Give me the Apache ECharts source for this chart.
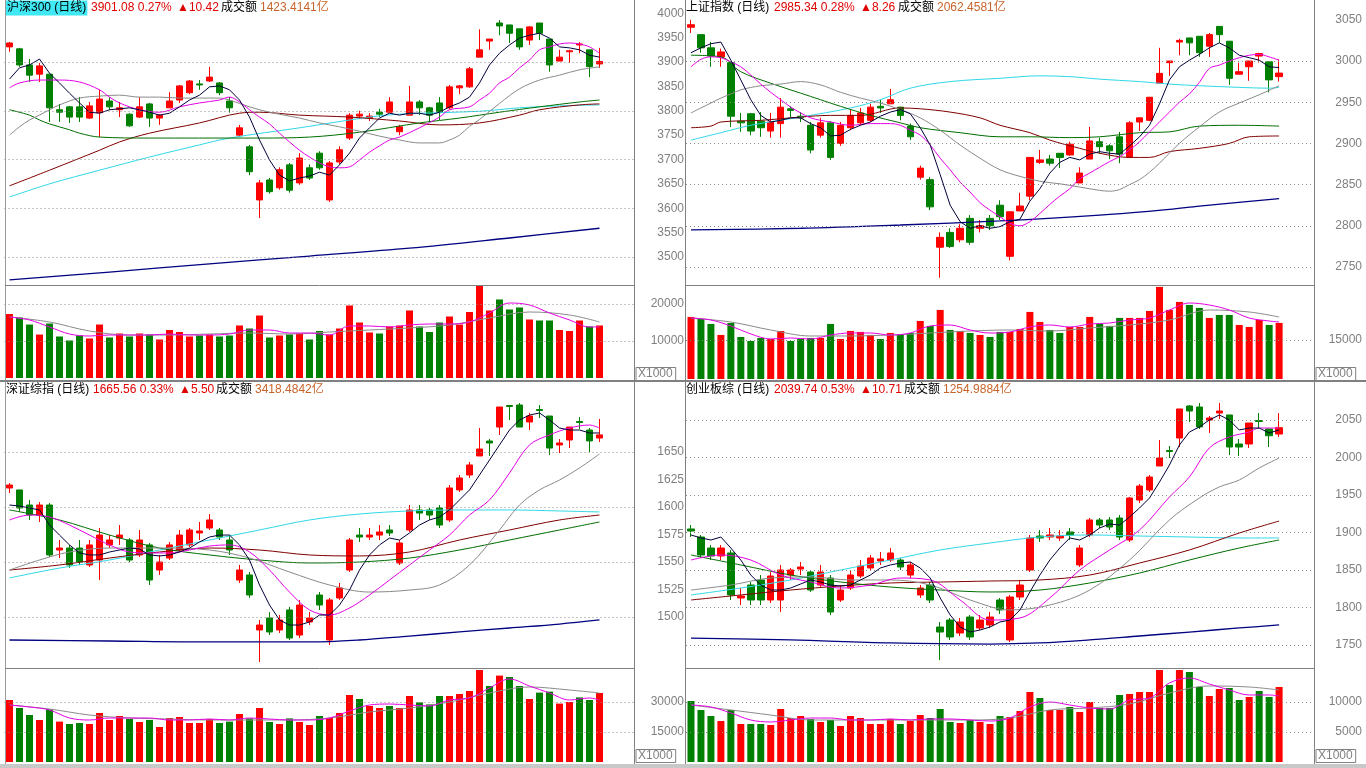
<!DOCTYPE html>
<html><head><meta charset="utf-8">
<script src="https://cdn.jsdelivr.net/npm/echarts@6/dist/echarts.min.js"></script>
<style>html,body{margin:0;padding:0;background:#fff;overflow:hidden}#c{width:1366px;height:768px}</style>
</head><body><div id="c"></div>
<script>
// ---------- slots (60 trading days + 3 empty slots on the right) ----------
const days = Array.from({length: 63}, (_, i) => 'D' + (i + 1));

// ---------- 沪深300 ----------
const hsK = [
[3931,3939,3921,3941],[3927,3894,3890,3929],[3894,3873,3859,3906],[3875,3892,3859,3898],[3875,3806,3777,3877],
[3802,3797,3777,3814],[3808,3787,3775,3810],[3808,3787,3777,3828],[3785,3810,3783,3818],[3796,3824,3746,3843],
[3820,3808,3802,3828],[3802,3806,3787,3818],[3793,3769,3767,3795],[3787,3808,3785,3828],[3814,3785,3767,3816],
[3785,3791,3771,3793],[3806,3820,3806,3838],[3822,3851,3816,3853],[3837,3861,3834,3863],[3855,3853,3843,3863],
[3861,3869,3859,3890],[3857,3837,3832,3859],[3820,3806,3796,3828],[3750,3765,3746,3771],[3726,3675,3668,3730],
[3617,3652,3580,3658],[3658,3634,3630,3662],[3642,3679,3638,3684],[3689,3637,3632,3693],[3652,3703,3648,3713],
[3683,3662,3658,3690],[3713,3683,3679,3717],[3617,3693,3613,3697],[3695,3720,3690,3727],[3744,3791,3740,3795],
[3789,3793,3783,3800],[3785,3789,3779,3795],[3797,3793,3787,3804],[3797,3818,3797,3828],[3757,3767,3750,3771],
[3791,3818,3791,3851],[3818,3806,3791,3822],[3806,3791,3777,3808],[3816,3797,3781,3828],[3806,3849,3802,3853],
[3847,3851,3834,3853],[3849,3886,3847,3890],[3910,3925,3910,3967],[3943,3947,3925,3947],[3980,3974,3955,3986],
[3976,3959,3939,3976],[3968,3931,3925,3968],[3945,3972,3935,3974],[3980,3959,3945,3980],[3947,3894,3880,3947],
[3902,3910,3902,3925],[3921,3923,3898,3925],[3935,3937,3918,3941],[3925,3890.66,3869,3925],[3896,3901.08,3888,3929]];
const hsMA5 = [3865,3888,3894,3906,3877,3857,3836,3816,3797,3795,3802,3804,3806,3802,3797,3791,3795,3808,3822,3832,3849,3851,3843,3822,3787,3740,3699,3668,3656,3662,3666,3674,3668,3689,3713,3744,3765,3785,3795,3791,3795,3795,3791,3797,3808,3816,3828,3857,3894,3918,3935,3949,3955,3959,3949,3931,3929,3925,3914,3910];
const hsMA10 = [[0,3847],[1,3857],[3,3863],[5,3863],[7,3859],[9,3843],[10,3828],[11,3816],[13,3802],[15,3797],[17,3808],[19,3816],[21,3822],[22,3828],[23,3818],[24,3802],[25,3787],[26,3773],[27,3754],[28,3736],[29,3719],[30,3705],[31,3693],[32,3685],[33,3683],[34,3685],[35,3699],[36,3715],[37,3728],[38,3740],[39,3746],[41,3765],[43,3787],[44,3802],[46,3808],[47,3822],[48,3836],[49,3857],[50,3869],[51,3888],[52,3904],[53,3925],[54,3931],[55,3937],[56,3939],[57,3937],[58,3931],[59,3918]];
const hsMA20 = [[0,3750],[1,3767],[2,3781],[3,3791],[4,3802],[5,3812],[7,3826],[9,3830],[11,3832],[13,3828],[15,3828],[17,3826],[19,3826],[21,3826],[22,3822],[24,3808],[26,3797],[29,3785],[31,3775],[33,3767],[35,3758],[37,3748],[39,3740],[41,3734],[43,3734],[44,3740],[45,3750],[46,3768],[47,3782],[49,3815],[51,3845],[53,3863],[55,3873],[57,3884],[59,3890]];
const hsMA30 = [[0,3802],[2,3791],[3,3781],[4,3773],[6,3761],[7,3754],[9,3746],[14,3744],[19,3744],[25,3744],[30,3746],[35,3756],[41,3775],[45,3785],[49,3797],[53,3808],[57,3818],[59,3822]];
const hsMA60 = [[0,3646],[4,3678],[9,3719],[11,3736],[14,3754],[19,3775],[23,3795],[25,3797],[29,3791],[34,3787],[39,3779],[43,3771],[47,3775],[51,3791],[53,3802],[57,3812],[59,3814]];
const hsMA120 = [[0,3623],[4,3650],[9,3678],[14,3705],[19,3730],[22,3744],[29,3765],[36,3787],[39,3793],[47,3799],[51,3806],[55,3810],[59,3812]];
const hsMA250 = [[0,3453],[10,3469],[20,3486],[30,3502],[40,3518],[50,3539],[59,3559]];
const hsVol = [17300,16350,14450,11750,14730,11220,10140,11490,10680,14450,10950,12030,11220,12030,11760,10410,12970,12430,11220,11490,11760,11220,11490,14190,13380,16890,10950,11490,11760,12030,10410,12700,11760,13380,19600,15000,12300,12030,13920,14190,18250,13920,12430,15000,16620,14450,17840,24860,18250,21220,18520,19060,15810,15540,15540,12970,12700,15540,13920,14190];
const hsVolMA5 = [[0,16490],[2,15680],[4,13790],[6,11890],[8,11350],[10,11620],[12,11620],[14,11620],[16,11890],[18,11620],[20,11620],[22,11890],[24,12970],[26,12970],[28,12160],[30,12160],[32,11620],[34,14060],[36,14060],[38,13790],[40,14330],[42,14600],[44,14600],[46,15140],[48,17570],[50,20270],[52,19730],[54,17570],[56,15680],[58,13790],[59,13790]];
const hsVolMA10 = [[0,16490],[4,15140],[8,12700],[12,11620],[16,11620],[20,11890],[24,12160],[28,11890],[32,12430],[36,12970],[40,13520],[44,14330],[48,16220],[52,17840],[56,17030],[59,15140]];
const hsTicks = [3500,3550,3600,3650,3700,3750,3800,3850,3900,3950,4000];
const hsGridLines = [3500,3600,3700,3800,3900];
const hsVolTicks = [10000,20000];

// ---------- 上证指数 ----------
const shK = [
[3041,3044,3034,3050],[3032,3016,3010,3032],[3016,3006,2993,3023],[3005,3011,2993,3015],[2998,2933,2920,2999],
[2927,2925,2914,2937],[2936,2915,2910,2937],[2927,2919,2908,2938],[2915,2926,2907,2937],[2924,2944,2907,2955],
[2942,2940,2932,2945],[2933,2931,2926,2938],[2922,2892,2888,2926],[2910,2925,2907,2931],[2925,2883,2880,2927],
[2900,2922,2897,2926],[2919,2934,2916,2941],[2925,2937,2922,2943],[2928,2944,2926,2948],[2945,2943,2937,2953],
[2948,2953,2948,2966],[2944,2934,2928,2944],[2921,2908,2904,2924],[2859,2870,2856,2873],[2856,2823,2819,2859],
[2774,2786,2737,2792],[2792,2775,2773,2797],[2783,2797,2780,2802],[2809,2780,2777,2813],[2797,2800,2792,2807],
[2809,2800,2795,2813],[2825,2811,2807,2831],[2763,2817,2758,2817],[2818,2824,2818,2840],[2836,2883,2831,2883],
[2877,2880,2875,2892],[2881,2876,2873,2886],[2888,2883,2870,2888],[2886,2899,2885,2902],[2852,2864,2852,2871],
[2881,2903,2881,2920],[2902,2896,2888,2907],[2897,2891,2881,2899],[2908,2887,2876,2914],[2883,2925,2883,2927],
[2926,2931,2915,2931],[2928,2956,2927,2956],[2973,2985,2973,3016],[2998,3000,2982,3000],[3023,3025,3007,3027],
[3028,3022,3007,3028],[3030,3010,3005,3030],[3018,3032,3005,3034],[3042,3032,3022,3042],[3024,2979,2971,3024],
[2984,2987,2984,2998],[2993,3000,2976,3000],[3006,3009,2998,3010],[2999,2977.08,2962,2999],[2981,2985.34,2975,3002]];
const shMA5 = [3010,3016,3021,3023,3001,2977,2953,2934,2926,2928,2931,2931,2924,2919,2909,2910,2917,2922,2926,2933,2938,2941,2936,2919,2898,2862,2825,2805,2797,2800,2797,2799,2805,2808,2830,2845,2864,2877,2883,2880,2887,2890,2888,2887,2897,2908,2922,2948,2977,2993,3001,3008,3016,3022,3016,3007,3004,3001,2993,2992];
const shMA10 = [[0,2993],[1,3002],[2,3005],[3,3004],[4,2999],[5,2993],[6,2983],[7,2972],[8,2962],[9,2953],[10,2944],[11,2937],[12,2931],[13,2928],[14,2926],[16,2922],[18,2924],[20,2924],[21,2922],[22,2916],[23,2910],[24,2898],[25,2882],[26,2868],[27,2853],[28,2841],[29,2828],[30,2819],[31,2811],[32,2803],[33,2800],[34,2805],[35,2815],[36,2826],[37,2836],[38,2845],[39,2857],[40,2864],[41,2871],[42,2878],[43,2884],[44,2892],[45,2902],[46,2914],[47,2926],[48,2938],[49,2950],[50,2960],[51,2974],[52,2991],[53,2995],[54,3000],[55,3004],[56,3007],[57,3008],[58,3005],[59,3001]];
const shMA20 = [[0,2937],[1,2943],[2,2949],[3,2955],[4,2960],[5,2965],[7,2970],[9,2972],[11,2975],[13,2971],[15,2962],[17,2955],[19,2949],[21,2941],[23,2931],[25,2916],[27,2898],[29,2882],[31,2868],[33,2860],[35,2854],[37,2851],[39,2847],[41,2843],[42,2842],[43,2844],[44,2850],[45,2856],[46,2865],[47,2876],[49,2900],[51,2920],[53,2938],[55,2949],[57,2959],[59,2970]];
const shMA30 = [[0,3007],[3,3005],[5,2987],[8,2973],[11,2961],[13,2953],[15,2945],[18,2934],[21,2925],[23,2919],[27,2913],[31,2908],[34,2908],[38,2907],[41,2908],[45,2913],[48,2914],[51,2921],[55,2922],[59,2921]];
const shMA60 = [[0,2919],[2,2921],[3,2926],[7,2928],[11,2932],[14,2934],[17,2934],[21,2943],[23,2942],[26,2938],[29,2931],[31,2922],[34,2913],[36,2904],[39,2894],[41,2888],[44,2883],[46,2883],[48,2890],[51,2894],[54,2900],[56,2908],[59,2909]];
const shMA120 = [[0,2904],[3,2913],[6,2922],[11,2932],[16,2943],[19,2953],[22,2967],[26,2975],[31,2979],[35,2982],[38,2981],[41,2978],[45,2975],[48,2972],[51,2970],[55,2968],[58,2967],[59,2968]];
const shMA250 = [[0,2795],[11,2797],[21,2801],[31,2806],[41,2813],[48,2820],[51,2824],[59,2833]];
const shVol = [23870,23100,21180,16940,21560,16170,14630,15790,15400,18480,14630,15400,15790,15790,21180,15400,18480,18100,16940,15400,17710,16940,17710,22330,20410,26570,18870,18480,17710,16940,16170,18100,18100,19250,25800,21950,18870,17710,20020,20020,23870,21180,20410,23490,23490,23490,26180,35420,26570,29650,28490,27340,23490,24640,24640,20790,20020,22720,20790,21560];
const shVolMA5 = [[0,23460],[2,22690],[4,20380],[6,17310],[8,15380],[10,15770],[12,15380],[14,16920],[16,17690],[18,17690],[20,16920],[22,17690],[24,20380],[26,20770],[28,18850],[30,17690],[32,18080],[34,20000],[36,20770],[38,20000],[40,21150],[42,21540],[44,22690],[46,23460],[48,26540],[50,29230],[52,28460],[54,26540],[56,23460],[58,22310],[59,21920]];
const shVolMA10 = [[0,23460],[4,21920],[8,18850],[12,16540],[16,16540],[20,16920],[24,17690],[28,18460],[32,18850],[36,18460],[40,19620],[44,20770],[48,22690],[52,26540],[56,25770],[59,23850]];
const shTicks = [2750,2800,2850,2900,2950,3000,3050];
const shGridLines = [2750,2800,2850,2900,2950,3000];
const shVolTicks = [15000];

// ---------- 深证综指 ----------
const szK = [
[1617.3,1620.0,1612.7,1621.8],[1615.5,1599.1,1595.5,1615.5],[1601.8,1592.7,1588.2,1606.4],[1592.7,1601.8,1586.4,1604.5],[1601.8,1556.4,1554.5,1603.6],
[1560.9,1562.7,1553.6,1570.0],[1562.7,1547.3,1544.5,1565.5],[1562.7,1550.0,1547.3,1570.0],[1547.3,1565.5,1545.5,1570.0],[1551.8,1574.5,1533.6,1580.9],
[1565.5,1570.0,1562.7,1574.5],[1571.8,1574.5,1565.5,1583.6],[1570.0,1551.8,1550.0,1571.8],[1556.4,1570.0,1554.5,1579.1],[1565.5,1533.6,1529.1,1567.3],
[1542.7,1550.0,1538.2,1556.4],[1553.6,1565.5,1551.8,1568.2],[1560.9,1574.5,1559.1,1579.1],[1565.5,1579.1,1563.6,1580.9],[1576.4,1578.2,1570.0,1586.4],
[1580.9,1588.2,1579.1,1593.6],[1579.1,1572.7,1570.0,1580.9],[1570.0,1560.9,1556.4,1574.5],[1533.6,1542.7,1530.9,1547.3],[1538.2,1520.0,1517.3,1540.9],
[1488.2,1492.7,1459.1,1497.3],[1499.1,1486.4,1483.6,1504.5],[1488.2,1497.3,1485.5,1501.8],[1506.4,1480.9,1479.1,1509.1],[1483.6,1510.9,1480.9,1515.5],
[1495.5,1499.1,1492.7,1504.5],[1520.0,1510.9,1506.4,1522.7],[1479.1,1515.5,1474.5,1517.3],[1517.3,1526.4,1515.5,1530.9],[1542.7,1570.0,1540.9,1571.8],
[1574.5,1572.7,1568.2,1580.9],[1572.7,1574.5,1570.0,1580.9],[1574.5,1577.3,1570.0,1583.6],[1579.1,1576.4,1573.6,1583.6],[1549.1,1567.3,1547.3,1570.0],
[1579.1,1597.3,1577.3,1601.8],[1597.3,1594.5,1588.2,1601.8],[1597.3,1592.7,1588.2,1599.1],[1599.1,1583.6,1580.9,1601.8],[1588.2,1617.3,1586.4,1620.0],
[1615.5,1626.4,1613.6,1629.1],[1629.1,1638.2,1626.4,1640.9],[1646.4,1652.7,1646.4,1671.8],[1660.0,1658.2,1646.4,1661.8],[1672.7,1690.9,1665.5,1690.9],
[1692.3,1691.4,1679.1,1692.7],[1692.7,1672.7,1672.7,1694.5],[1677.3,1682.7,1670.0,1685.5],[1688.6,1687.7,1680.9,1692.7],[1682.7,1653.6,1647.3,1682.7],
[1656.4,1658.2,1649.1,1661.8],[1660.9,1672.7,1653.6,1672.7],[1677.7,1676.8,1670.9,1681.8],[1670.0,1660.06,1650.0,1671.8],[1662.7,1665.56,1659.1,1680.0]];
const szMA5 = [1601.8,1600.9,1599.1,1597.3,1583.6,1574.5,1565.5,1558.2,1556.4,1556.4,1559.1,1560.9,1562.7,1561.8,1556.4,1555.5,1556.4,1559.1,1562.7,1568.2,1572.7,1574.5,1574.5,1565.5,1551.8,1529.1,1510.9,1497.3,1492.7,1492.7,1495.5,1501.8,1501.8,1510.9,1524.5,1542.7,1556.4,1565.5,1571.8,1570.0,1576.4,1583.6,1588.2,1590.9,1597.3,1606.4,1615.5,1629.1,1642.7,1656.4,1670.0,1679.1,1683.6,1685.5,1679.1,1671.8,1670.0,1670.0,1667.3,1667.3];
const szMA10 = [[0,1588.2],[2,1592.7],[4,1590.9],[6,1583.6],[8,1574.5],[10,1565.5],[12,1559.1],[14,1558.2],[16,1558.2],[18,1560.9],[20,1564.5],[22,1565.5],[24,1559.1],[26,1542.7],[28,1522.7],[30,1506.4],[32,1501.8],[34,1508.2],[36,1520.0],[38,1533.6],[40,1547.3],[42,1560.9],[44,1574.5],[46,1592.7],[48,1606.4],[50,1630.9],[52,1656.4],[54,1665.5],[56,1671.8],[58,1674.5],[59,1671.8]];
const szMA20 = [[0,1542.7],[3,1551.8],[6,1559.1],[10,1562.7],[15,1562.7],[20,1560.9],[24,1553.6],[28,1540.9],[32,1529.1],[36,1522.7],[40,1524.5],[43,1529.1],[46,1547.3],[49,1579.1],[51,1601.8],[53,1615.5],[55,1624.5],[57,1635.5],[59,1648.2]];
const szMA30 = [[0,1597.3],[5,1588.2],[10,1574.5],[15,1562.7],[20,1556.4],[25,1551.8],[30,1549.1],[35,1550.0],[40,1553.6],[45,1560.9],[50,1570.0],[55,1579.1],[59,1586.4]];
const szMA60 = [[0,1542.7],[5,1547.3],[10,1553.6],[15,1559.1],[20,1562.7],[25,1560.9],[30,1556.4],[35,1555.5],[40,1559.1],[45,1570.0],[50,1579.1],[55,1588.2],[59,1592.7]];
const szMA120 = [[0,1535.5],[5,1544.5],[10,1551.8],[15,1560.9],[20,1570.0],[25,1579.1],[30,1588.2],[35,1593.6],[40,1596.4],[45,1597.3],[50,1597.3],[55,1596.4],[59,1595.5]];
const szMA250 = [[0,1479.1],[10,1478.2],[20,1477.3],[30,1477.3],[35,1479.1],[40,1482.7],[45,1486.4],[50,1490.0],[55,1493.6],[59,1497.3]];
const szVol = [31000,27000,23500,21000,26300,20200,19000,19500,19000,24500,21000,23000,21500,20000,21000,17500,22000,22500,19500,19500,21500,19500,20200,24000,21800,27000,20000,19000,21800,20000,18500,23000,22000,24500,33500,31500,28000,27000,28000,27000,33000,29800,28800,33000,33000,34000,35500,46000,38000,43200,42500,38000,31500,34700,35200,29200,30000,32300,31000,34500];
const szVolMA5 = [[0,28500],[2,27500],[4,26000],[6,22000],[8,21000],[10,22000],[12,22000],[14,22000],[16,21000],[18,21000],[20,21500],[22,21000],[24,22000],[26,21500],[28,21000],[30,21000],[32,22000],[34,25500],[36,28500],[38,29000],[40,28500],[42,28000],[44,31000],[46,32000],[48,37000],[50,41500],[52,38000],[54,34500],[56,31000],[58,32000],[59,31000]];
const szVolMA10 = [[0,28500],[4,26500],[8,23500],[12,22000],[16,21500],[20,21000],[24,21000],[28,21000],[32,22000],[36,25000],[40,27000],[44,30000],[48,34500],[52,37500],[56,36000],[59,34500]];
const szTicks = [1500,1525,1550,1575,1600,1625,1650];
const szGridLines = [1500,1550,1600,1650];
const szVolTicks = [15000,30000];

// ---------- 创业板综 ----------
const cyK = [
[1904.7,1902.0,1894.0,1910.0],[1894.0,1870.0,1866.0,1896.7],[1879.3,1868.7,1863.3,1883.3],[1868.7,1879.3,1863.3,1883.3],[1872.7,1816.7,1810.0,1876.7],
[1812.7,1815.3,1803.3,1826.0],[1830.0,1810.0,1803.3,1834.0],[1836.7,1810.0,1803.3,1843.3],[1810.0,1842.0,1806.0,1847.3],[1810.0,1850.0,1794.0,1856.7],
[1843.3,1850.0,1836.7,1852.7],[1851.3,1854.0,1843.3,1860.7],[1847.3,1823.3,1820.7,1850.0],[1830.0,1847.3,1826.0,1856.7],[1839.3,1794.0,1790.0,1843.3],
[1810.0,1823.3,1807.3,1830.0],[1826.0,1843.3,1823.3,1850.0],[1842.0,1855.3,1839.3,1863.3],[1852.7,1866.0,1850.0,1870.0],[1862.0,1864.7,1856.7,1874.0],
[1863.3,1872.7,1860.7,1879.3],[1863.3,1854.0,1850.0,1866.0],[1843.3,1856.7,1839.3,1860.7],[1816.7,1826.0,1812.7,1830.0],[1830.0,1810.0,1806.0,1834.0],
[1774.0,1767.3,1730.0,1780.7],[1783.3,1760.7,1756.7,1786.0],[1766.0,1780.7,1762.0,1786.0],[1787.3,1760.7,1756.7,1790.0],[1772.7,1783.3,1770.0,1790.0],
[1776.7,1787.3,1772.7,1794.0],[1810.0,1796.7,1791.3,1812.7],[1756.7,1814.0,1754.0,1816.7],[1814.0,1830.0,1810.0,1836.7],[1850.0,1892.7,1847.3,1896.7],
[1895.3,1892.7,1887.3,1903.3],[1894.0,1896.7,1890.0,1906.0],[1892.7,1895.3,1888.7,1903.3],[1900.7,1896.7,1890.0,1906.0],[1856.7,1879.3,1854.0,1883.3],
[1896.7,1916.7,1894.0,1919.3],[1916.7,1910.0,1906.0,1919.3],[1916.7,1907.3,1903.3,1920.7],[1919.3,1894.0,1890.0,1923.3],[1890.0,1946.0,1887.3,1947.3],
[1943.3,1962.0,1939.3,1964.7],[1956.7,1974.0,1954.0,1976.7],[1988.7,1999.3,1988.7,2023.3],[2009.3,2008.0,1999.3,2015.3],[2026.0,2064.7,2014.0,2064.7],
[2068.7,2062.0,2047.3,2070.0],[2067.3,2040.7,2038.0,2072.7],[2050.0,2052.7,2032.7,2055.3],[2059.3,2062.0,2051.3,2072.7],[2056.7,2014.0,2003.3,2056.7],
[2018.0,2014.0,2002.0,2024.7],[2018.0,2046.0,2012.7,2046.0],[2049.3,2048.0,2039.3,2059.3],[2038.0,2029.03,2014.0,2038.0],[2031.3,2039.74,2027.3,2059.3]];
const cyMA5 = [1896.7,1892.7,1890.0,1894.0,1879.3,1863.3,1843.3,1830.0,1823.3,1823.3,1826.0,1831.3,1836.7,1834.0,1830.0,1828.7,1830.0,1836.7,1843.3,1852.7,1856.7,1859.3,1860.7,1852.7,1839.3,1812.7,1790.0,1774.0,1767.3,1770.0,1774.0,1780.7,1783.3,1796.7,1820.7,1843.3,1863.3,1879.3,1892.7,1890.0,1896.7,1906.0,1911.3,1910.0,1920.7,1932.7,1946.0,1967.3,1990.0,2016.7,2034.0,2040.7,2050.0,2056.7,2050.0,2036.7,2039.3,2039.3,2032.7,2036.7];
const cyMA10 = [[0,1863.3],[3,1870.0],[6,1863.3],[9,1843.3],[12,1834.0],[15,1826.0],[18,1830.0],[21,1839.3],[24,1836.7],[27,1810.0],[30,1783.3],[33,1786.0],[36,1812.7],[39,1850.0],[42,1876.7],[45,1903.3],[48,1947.3],[50,1974.0],[52,2012.7],[54,2027.3],[56,2034.0],[57,2039.3],[58,2039.3],[59,2039.3]];
const cyMA20 = [[0,1823.3],[4,1830.0],[8,1839.3],[12,1840.7],[16,1836.7],[20,1836.7],[24,1830.0],[28,1810.0],[32,1796.7],[36,1803.3],[40,1823.3],[44,1863.3],[48,1916.7],[51,1946.0],[53,1960.7],[55,1970.0],[57,1986.0],[59,1999.3]];
const cyMA30 = [[0,1870.0],[5,1856.7],[10,1843.3],[15,1834.0],[20,1827.3],[25,1823.3],[30,1820.7],[35,1823.3],[40,1832.7],[45,1846.0],[50,1863.3],[55,1879.3],[59,1890.0]];
const cyMA60 = [[0,1810.0],[5,1816.7],[10,1823.3],[15,1828.7],[20,1832.7],[25,1834.0],[30,1835.3],[35,1836.7],[40,1843.3],[45,1859.3],[50,1876.7],[55,1899.3],[59,1915.3]];
const cyMA120 = [[0,1816.7],[5,1826.0],[10,1836.7],[15,1850.0],[20,1863.3],[25,1876.7],[30,1886.0],[35,1894.0],[40,1896.7],[45,1895.3],[50,1894.0],[55,1892.7],[59,1892.7]];
const cyMA250 = [[0,1759.3],[10,1756.7],[20,1752.7],[30,1751.3],[35,1752.7],[40,1756.7],[45,1762.0],[50,1767.3],[55,1772.7],[59,1776.7]];
const cyVol = [10170,8670,7670,6830,8670,6330,6330,6330,6170,8830,7330,7670,7170,6670,7000,6000,7670,7330,6330,6330,7170,6330,6830,7830,7330,8830,6670,6500,7000,6670,6330,7670,7500,8500,11670,10670,8670,8670,9170,8330,10000,9000,9000,11170,11330,11670,11670,15330,12830,15330,15000,12500,11000,12170,12330,10330,10830,11830,10830,12500];
const cyVolMA5 = [[0,9500],[2,9170],[4,8170],[6,7000],[8,6670],[10,7000],[12,7330],[14,7330],[16,7000],[18,7000],[20,7170],[22,7000],[24,7170],[26,7170],[28,7000],[30,6830],[32,7330],[34,9170],[36,10000],[38,9500],[40,9000],[42,8830],[44,10330],[46,10670],[48,13170],[50,14000],[52,13000],[54,12000],[56,11170],[58,11170],[59,11000]];
const cyVolMA10 = [[0,9500],[4,8670],[8,7830],[12,7000],[16,7000],[20,7000],[24,7000],[28,7000],[32,7330],[36,8670],[40,9000],[44,9670],[48,11500],[52,12670],[56,12500],[59,12000]];
const cyTicks = [1750,1800,1850,1900,1950,2000,2050];
const cyGridLines = [1750,1800,1850,1900,1950,2000,2050];
const cyVolTicks = [5000,10000];

// ---------- titles ----------
const titles = [
  {name:'沪深300 (日线)', price:'3901.08 0.27%', chg:'▲10.42', amt:'1423.4141亿', x:[6,91,177,221,260], y:8, active:true},
  {name:'上证指数 (日线)', price:'2985.34 0.28%', chg:'▲8.26', amt:'2062.4581亿', x:[686,774,860,898,937], y:8},
  {name:'深证综指 (日线)', price:'1665.56 0.33%', chg:'▲5.50', amt:'3418.4842亿', x:[6,93,179,216,255], y:390},
  {name:'创业板综 (日线)', price:'2039.74 0.53%', chg:'▲10.71', amt:'1254.9884亿', x:[686,774,860,904,943], y:390}
];

// ---------- styling ----------
const COL = {up:'#FF0000', down:'#008000', ma:['#00003A','#E600E6','#8A8A8A','#006E00','#800000','#30D8E8','#000080'],
             vma:['#E600E6','#8A8A8A'], grid:'#8C8C8C', axis:'#808080'};

const panels = [
  {k:hsK, ma:[hsMA5,hsMA10,hsMA20,hsMA30,hsMA60,hsMA120,hsMA250], vol:hsVol, vma:[hsVolMA5,hsVolMA10],
   ticks:hsTicks, gl:hsGridLines, vticks:hsVolTicks, g:[4.5,630,13.25,268.125], y:[3450,4000,50], vg:[4.5,630,285.5,92.5], vy:[0,25000,10000], m:49.5},
  {k:shK, ma:[shMA5,shMA10,shMA20,shMA30,shMA60,shMA120,shMA250], vol:shVol, vma:[shVolMA5,shVolMA10],
   ticks:shTicks, gl:shGridLines, vticks:shVolTicks, g:[686,628,19.8,288.4], y:[2700,3050,50], vg:[686,628,285.4,93.6], vy:[0,36000,15000], m:48},
  {k:szK, ma:[szMA5,szMA10,szMA20,szMA30,szMA60,szMA120,szMA250], vol:szVol, vma:[szVolMA5,szVolMA10],
   ticks:szTicks, gl:szGridLines, vticks:szVolTicks, g:[4.5,630,397,275], y:[1450,1700,25], vg:[4.5,630,669,93], vy:[0,46500,15000], m:49.5},
  {k:cyK, ma:[cyMA5,cyMA10,cyMA20,cyMA30,cyMA60,cyMA120,cyMA250], vol:cyVol, vma:[cyVolMA5,cyVolMA10],
   ticks:cyTicks, gl:cyGridLines, vticks:cyVolTicks, g:[686,628,382.5,300], y:[1700,2100,50], vg:[686,628,669,93], vy:[0,15500,5000], m:48}
];

const grid = [], xAxis = [], yAxis = [], series = [];
function addAxis(g, rng, ticks, margin) {
  const idx = grid.length;
  grid.push({left:g[0], width:g[1], top:g[2], height:g[3]});
  xAxis.push({gridIndex:idx, type:'category', data:days, boundaryGap:true, show:false});
  yAxis.push({gridIndex:idx, type:'value', position:'right', min:rng[0], max:rng[1], interval:rng[2], scale:false,
    axisLine:{show:false}, axisTick:{show:false}, splitLine:{show:false},
    axisLabel:{show:true, color:COL.axis, fontSize:12, fontFamily:'"Liberation Sans", Arial, sans-serif', align:'right', margin:margin,
      formatter: v => ticks.indexOf(Math.round(v)) >= 0 ? String(Math.round(v)) : ''}});
  return idx;
}
function gridLines(idx, vals) {
  series.push({type:'line', xAxisIndex:idx, yAxisIndex:idx, data:[], z:1, silent:true,
    markLine:{silent:true, symbol:['none','none'], animation:false, label:{show:false},
      lineStyle:{color:COL.grid, type:[1,3], width:1}, data: vals.map(v => ({yAxis:v}))}});
}
function maLine(idx, data, color, width, z) {
  const sparse = Array.isArray(data[0]);
  series.push({type:'line', xAxisIndex:idx, yAxisIndex:idx, data:data, symbol:'none', smooth: sparse ? 0.35 : false,
    connectNulls:true, silent:true, z:z, lineStyle:{color:color, width:width}});
}

panels.forEach(p => {
  const ci = addAxis(p.g, p.y, p.ticks, p.m);
  gridLines(ci, p.gl);
  series.push({type:'candlestick', xAxisIndex:ci, yAxisIndex:ci, data:p.k, barWidth:7, z:3, silent:true,
    itemStyle:{color:COL.up, color0:COL.down, borderColor:COL.up, borderColor0:COL.down, borderWidth:1}});
  [6,5,4,3,2,1,0].forEach(j => maLine(ci, p.ma[j], COL.ma[j], j === 6 ? 1.3 : 1, 4 + (6 - j) * 0.1));
  const vi = addAxis(p.vg, p.vy, p.vticks, p.m);
  gridLines(vi, p.vticks);
  const K = p.k;
  series.push({type:'bar', xAxisIndex:vi, yAxisIndex:vi, data:p.vol, barWidth:7, z:3, silent:true,
    itemStyle:{color: prm => (K[prm.dataIndex][1] >= K[prm.dataIndex][0] ? COL.up : COL.down)}});
  maLine(vi, p.vma[1], COL.vma[1], 1, 4);
  maLine(vi, p.vma[0], COL.vma[0], 1, 4.1);
});

// ---------- frame & texts ----------
const FONT = '12px "Liberation Sans", "Noto Sans CJK SC", sans-serif';
const gfx = [];
function ln(x1,y1,x2,y2,c,w){ gfx.push({type:'line', silent:true, z:10, shape:{x1,y1,x2,y2}, style:{stroke:c||'#808080', lineWidth:w||1}}); }
ln(5.5,0,5.5,768,'#9A9A9A',1);
ln(634.5,0,634.5,768);
ln(685.5,0,685.5,768);
ln(1314.5,0,1314.5,768);
ln(5,285.5,634,285.5); ln(686,285.5,1314,285.5);
ln(0,381,1366,381,'#808080',2);
ln(5,668.5,634,668.5); ln(686,668.5,1314,668.5);
gfx.push({type:'rect', silent:true, z:10, shape:{x:0,y:764,width:1366,height:4}, style:{fill:'#C8C8C8'}});

titles.forEach(t => {
  const parts = [
    {text:t.name, fill:'#000000'},
    {text:t.price, fill:'#E00000'},
    {text:t.chg, fill:'#E00000'},
    {text:'成交额', fill:'#000000'},
    {text:t.amt, fill:'#C8642A'}];
  parts.forEach((pt, i) => {
    const st = {text:pt.text, fill:pt.fill, font:FONT, verticalAlign:'middle', align:'left'};
    if (i === 0 && t.active) { st.backgroundColor = '#3FE8F2'; st.padding = [2,1,1,1]; }
    gfx.push({type:'text', silent:true, z:12, x:t.x[i], y:t.y, style:st});
  });
});
[[636,374],[1316,374],[636,756],[1316,756]].forEach(pos => {
  gfx.push({type:'text', silent:true, z:12, x:pos[0], y:pos[1],
    style:{text:'X1000', fill:'#808080', font:'12px "Liberation Sans", Arial, sans-serif', verticalAlign:'middle',
      borderColor:'#808080', borderWidth:1, padding:[1,3,0,2]}});
});

const chart = echarts.init(document.getElementById('c'), null, {renderer:'canvas'});
chart.setOption({animation:false, backgroundColor:'#FFFFFF', grid, xAxis, yAxis, series, graphic:gfx});
</script></body></html>
